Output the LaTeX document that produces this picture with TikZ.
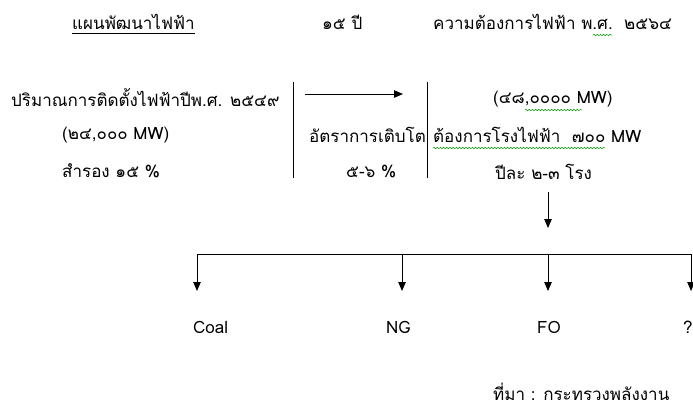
\documentclass[tikz,border=0pt]{standalone}
\usepackage{fontspec}
\setmainfont[Script=Thai]{Loma}
\usetikzlibrary{arrows.meta,decorations.pathmorphing}
\tikzset{
  txt/.style={inner sep=0pt, anchor=west, font=\fontsize{17}{19}\selectfont},
  tipline/.style={-{Triangle[length=9pt,width=7.5pt]}, line width=0.8pt},
  spell/.style={green!60!black, line width=0.5pt, decorate,
    decoration={snake, amplitude=0.8pt, segment length=3.2pt}}
}
\begin{document}
\begin{tikzpicture}[x=1pt, y=-1pt]
\useasboundingbox (0,0) rectangle (693,408);

% top row
\node[txt] (plan) at (72,22) {แผนพัฒนาไฟฟ้า};
\draw[line width=0.7pt] (plan.south west) ++(0,3) -- ([yshift=-3pt]plan.south east);
\node[txt] (yrs) at (322,22) {๑๕ ปี};
\node[txt] (need) at (433,22) {ความต้องการไฟฟ้า พ.ศ.\ \ ๒๕๖๔};

% left block
\node[txt] (inst) at (11,98) {ปริมาณการติดตั้งไฟฟ้าปีพ.ศ. ๒๕๔๙};
\node[txt] (cap) at (62,135) {(๒๔,๐๐๐ MW)};
\node[txt] (res) at (62,171) {สำรอง ๑๕ \%};

% middle block
\coordinate (bar1) at (293,82);
\coordinate (bar2) at (427,82);
\draw[line width=0.8pt] (bar1) -- ++(0,96);
\draw[line width=0.8pt] (bar2) -- ++(0,96);
\coordinate (arr) at (305,94);
\draw[tipline] (arr) -- ++(98,0);
\node[txt] (rate) at (309,135) {อัตราการเติบโต};
\node[txt] (pct) at (346,172) {๕-๖ \%};

% right block
\node[txt] (mw) at (493,99) {(๔๘,๐๐๐๐ MW)};
\node[txt] (plant) at (433,135) {ต้องการโรงไฟฟ้า\ \ ๗๐๐ MW};
\node[txt] (peryr) at (495,172) {ปีละ ๒-๓ โรง};

% spelling marks
\draw[spell] (593,35) -- (612,35);
\draw[spell] (525,110) -- (582,110);
\draw[spell] (433,148) -- (605,148);

% fuel branches
\coordinate (top) at (548,192);
\coordinate (hub) at (548,228);
\draw[tipline] (top) -- (hub);
\coordinate (bl) at (197,254);
\coordinate (br) at (691,254);
\draw[line width=0.8pt] (bl) -- (br);
\node[txt] (coal) at (193,327) {Coal};
\node[txt] (ng) at (386,327) {NG};
\node[txt] (fo) at (537,327) {FO};
\node[txt] (q) at (683,327) {?};
\foreach \x in {197,402,548,691}
  \draw[tipline] (\x,254) -- (\x,291);

\node[txt] (src) at (493,392) {ที่มา : กระทรวงพลังงาน};
\end{tikzpicture}
\end{document}
